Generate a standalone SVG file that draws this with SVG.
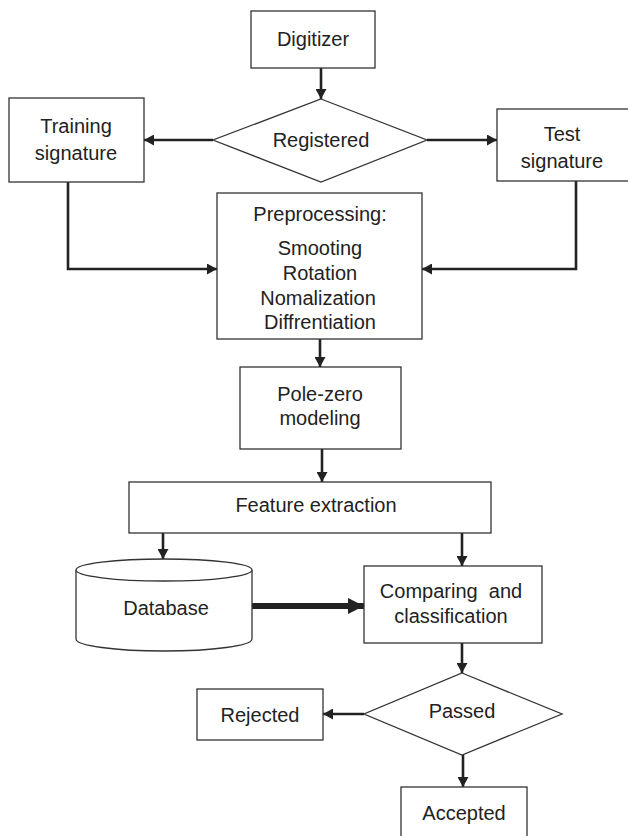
<svg xmlns="http://www.w3.org/2000/svg" width="628" height="836" viewBox="0 0 628 836">
<style>
.box{fill:#fff;stroke:#333;stroke-width:1.3}
.t{font-family:"Liberation Sans",Arial,sans-serif;font-size:20px;fill:#222;text-anchor:middle}
.c{fill:none;stroke:#222;stroke-width:2.6}
.thick{fill:none;stroke:#222;stroke-width:6}
</style>
<defs>
<marker id="ah" markerWidth="10" markerHeight="11" refX="10" refY="5.5" orient="auto" markerUnits="userSpaceOnUse">
<path d="M0,0 L10,5.5 L0,11 Z" fill="#222"/>
</marker>
<marker id="ahb" markerWidth="16" markerHeight="16" refX="16" refY="8" orient="auto" markerUnits="userSpaceOnUse">
<path d="M0,0 L16,8 L0,16 Z" fill="#222"/>
</marker>
</defs>
<rect width="628" height="836" fill="#fff"/>
<g id="connectors">
<line class="c" x1="321" y1="68" x2="321" y2="99" marker-end="url(#ah)"/>
<line class="c" x1="213" y1="140" x2="144" y2="140" marker-end="url(#ah)"/>
<line class="c" x1="427" y1="140" x2="497" y2="140" marker-end="url(#ah)"/>
<polyline class="c" points="68,182 68,269 217,269" marker-end="url(#ah)"/>
<polyline class="c" points="576,181 576,269 422,269" marker-end="url(#ah)"/>
<line class="c" x1="320" y1="339" x2="320" y2="367" marker-end="url(#ah)"/>
<line class="c" x1="322" y1="449" x2="322" y2="482" marker-end="url(#ah)"/>
<line class="c" x1="163" y1="533" x2="163" y2="559" marker-end="url(#ah)"/>
<line class="c" x1="462" y1="533" x2="462" y2="566" marker-end="url(#ah)"/>
<line class="thick" x1="250" y1="606" x2="364" y2="606" marker-end="url(#ahb)"/>
<line class="c" x1="462" y1="643" x2="462" y2="673" marker-end="url(#ah)"/>
<line class="c" x1="364" y1="714" x2="323" y2="714" marker-end="url(#ah)"/>
<line class="c" x1="463" y1="755" x2="463" y2="787" marker-end="url(#ah)"/>
</g>
<g id="digitizer">
<rect class="box" x="251" y="11" width="124" height="57"/>
<text class="t" x="313" y="46">Digitizer</text>
</g>
<g id="registered">
<polygon class="box" points="321,99 427,140 321,182 213,140"/>
<text class="t" x="321" y="147">Registered</text>
</g>
<g id="training">
<rect class="box" x="9" y="98" width="135" height="84"/>
<text class="t" x="76" y="133">Training</text>
<text class="t" x="76" y="160">signature</text>
</g>
<g id="test">
<rect class="box" x="497" y="109" width="134" height="72"/>
<text class="t" x="562" y="141">Test</text>
<text class="t" x="562" y="168">signature</text>
</g>
<g id="preprocessing">
<rect class="box" x="217" y="193" width="205" height="146"/>
<text class="t" x="320" y="221">Preprocessing:</text>
<text class="t" x="320" y="255">Smooting</text>
<text class="t" x="320" y="280">Rotation</text>
<text class="t" x="318" y="305">Nomalization</text>
<text class="t" x="320" y="329">Diffrentiation</text>
</g>
<g id="polezero">
<rect class="box" x="240" y="367" width="161" height="82"/>
<text class="t" x="320" y="401">Pole-zero</text>
<text class="t" x="320" y="425">modeling</text>
</g>
<g id="feature">
<rect class="box" x="129" y="482" width="362" height="51"/>
<text class="t" x="316" y="512">Feature extraction</text>
</g>
<g id="database">
<path class="box" d="M76,570 L76,639 A88,12 0 0 0 252,639 L252,570"/>
<ellipse class="box" cx="164" cy="570" rx="88" ry="11"/>
<text class="t" x="166" y="615">Database</text>
</g>
<g id="comparing">
<rect class="box" x="364" y="566" width="178" height="77"/>
<text class="t" x="451" y="598" style="white-space:pre">Comparing  and</text>
<text class="t" x="451" y="623">classification</text>
</g>
<g id="passed">
<polygon class="box" points="462,673 562,714 462,755 364,714"/>
<text class="t" x="462" y="718">Passed</text>
</g>
<g id="rejected">
<rect class="box" x="197" y="689" width="126" height="51"/>
<text class="t" x="260" y="722">Rejected</text>
</g>
<g id="accepted">
<rect class="box" x="401" y="787" width="126" height="55"/>
<text class="t" x="464" y="820">Accepted</text>
</g>
</svg>
